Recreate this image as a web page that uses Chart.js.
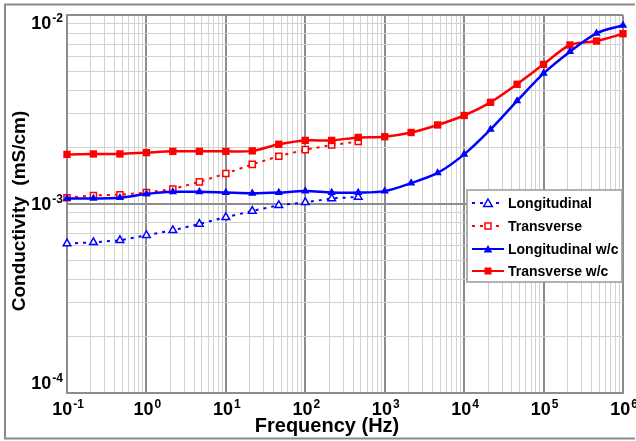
<!DOCTYPE html>
<html>
<head>
<meta charset="utf-8">
<script src="https://cdn.jsdelivr.net/npm/chart.js@4/dist/chart.umd.min.js"></script>
<style>
  html, body { margin: 0; padding: 0; background: #fff; }
  #wrap { position: relative; width: 636px; height: 441px; }
</style>
</head>
<body>
<div id="wrap"><canvas id="chart"></canvas></div>
<script>
// frequency points (Hz), three per decade
const freqHz = [0.1, 0.215, 0.464, 1, 2.15, 4.64, 10, 21.5, 46.4, 100, 215, 464,
  1000, 2150, 4640, 10000, 21500, 46400, 100000, 215000, 464000, 1000000];

// conductivity (mS/cm)
const longitudinal = [6.17e-4, 6.27e-4, 6.43e-4, 6.83e-4, 7.26e-4, 7.84e-4, 8.51e-4, 9.19e-4,
  9.85e-4, 1.02e-3, 1.07e-3, 1.09e-3];
const transverse = [1.08e-3, 1.11e-3, 1.12e-3, 1.15e-3, 1.20e-3, 1.31e-3, 1.45e-3, 1.62e-3,
  1.79e-3, 1.94e-3, 2.05e-3, 2.14e-3];
const longitudinalWc = [1.07e-3, 1.07e-3, 1.08e-3, 1.13e-3, 1.16e-3, 1.16e-3, 1.15e-3, 1.14e-3,
  1.15e-3, 1.17e-3, 1.15e-3, 1.15e-3, 1.17e-3, 1.29e-3, 1.46e-3, 1.83e-3, 2.48e-3, 3.51e-3,
  4.91e-3, 6.40e-3, 8.00e-3, 8.82e-3];
const transverseWc = [1.83e-3, 1.84e-3, 1.84e-3, 1.87e-3, 1.90e-3, 1.90e-3, 1.90e-3, 1.91e-3,
  2.07e-3, 2.17e-3, 2.17e-3, 2.25e-3, 2.27e-3, 2.39e-3, 2.62e-3, 2.94e-3, 3.45e-3, 4.30e-3,
  5.48e-3, 6.94e-3, 7.28e-3, 7.96e-3];

// axis tick exponents (labels are 10^n)
const xDecades = [-1, 0, 1, 2, 3, 4, 5, 6];
const yDecades = [-4, -3, -2];

const RED = "#ff0000";
const BLUE = "#0000ff";
const FONT = "'Liberation Sans', Arial, sans-serif";

function pts(values) {
  return values.map((v, i) => ({ x: freqHz[i], y: v }));
}

// 1..9 x 10^n grid for each decade
function logTicks(decades) {
  const ticks = [];
  decades.forEach((e, i) => {
    if (i === decades.length - 1) {
      ticks.push({ value: Math.pow(10, e), major: true });
      return;
    }
    for (let m = 1; m <= 9; m++) {
      ticks.push({ value: Number((m * Math.pow(10, e)).toPrecision(6)), major: m === 1 });
    }
  });
  return ticks;
}

const gridColor = (c) => (c.tick && c.tick.major ? "#8c8c8c" : "#d2d2d2");
const gridWidth = (c) => (c.tick && c.tick.major ? 2 : 1);

function drawPow(ctx, exp, x, y, align) {
  const base = "10";
  const sup = String(exp);
  ctx.font = "bold 18px " + FONT;
  const bw = ctx.measureText(base).width;
  ctx.font = "bold 12px " + FONT;
  const sw = ctx.measureText(sup).width;
  const total = bw + sw + 1;
  let left = align === "right" ? x - total : x - total / 2;
  ctx.textAlign = "left";
  ctx.textBaseline = "alphabetic";
  ctx.font = "bold 18px " + FONT;
  ctx.fillText(base, left, y);
  ctx.font = "bold 12px " + FONT;
  ctx.fillText(sup, left + bw + 1, y - 7);
}

function triangle(ctx, x, y, r, filled, color) {
  ctx.beginPath();
  ctx.moveTo(x, y - r);
  ctx.lineTo(x + r * 0.866, y + r * 0.5);
  ctx.lineTo(x - r * 0.866, y + r * 0.5);
  ctx.closePath();
  if (filled) { ctx.fillStyle = color; ctx.fill(); }
  else { ctx.fillStyle = "#fff"; ctx.fill(); ctx.strokeStyle = color; ctx.lineWidth = 1.5; ctx.stroke(); }
}

function square(ctx, x, y, s, filled, color) {
  if (filled) { ctx.fillStyle = color; ctx.fillRect(x - s / 2, y - s / 2, s, s); }
  else {
    ctx.fillStyle = "#fff"; ctx.fillRect(x - s / 2, y - s / 2, s, s);
    ctx.strokeStyle = color; ctx.lineWidth = 1.5; ctx.strokeRect(x - s / 2, y - s / 2, s, s);
  }
}

const decorPlugin = {
  id: "decor",
  afterDraw(chart) {
    const ctx = chart.ctx;
    const xs = chart.scales.x;
    const ys = chart.scales.y;
    ctx.save();
    ctx.fillStyle = "#000";

    // tick labels
    xDecades.forEach((e) => {
      drawPow(ctx, e, xs.getPixelForValue(Math.pow(10, e)) + 1, 415, "center");
    });
    yDecades.forEach((e, i) => {
      let y = ys.getPixelForValue(Math.pow(10, e)) + 6;
      if (i === 0) y -= 10;
      if (i === yDecades.length - 1) y += 8;
      ctx.fillStyle = "#000";
      drawPow(ctx, e, 63, y, "right");
    });

    // axis titles
    ctx.fillStyle = "#000";
    ctx.font = "bold 20px " + FONT;
    ctx.textAlign = "center";
    ctx.textBaseline = "middle";
    ctx.fillText("Frequency (Hz)", 327, 426);
    ctx.save();
    ctx.translate(20, 211);
    ctx.rotate(-Math.PI / 2);
    ctx.font = "bold 19px " + FONT;
    ctx.fillText("Conductivity  (mS/cm)", 0, 0);
    ctx.restore();

    // legend box
    const lx = 467, ly = 190, lw = 155, lh = 92;
    ctx.fillStyle = "#fff";
    ctx.fillRect(lx, ly, lw, lh);
    ctx.strokeStyle = "#999";
    ctx.lineWidth = 1.5;
    ctx.strokeRect(lx, ly, lw, lh);
    const rows = [
      { label: "Longitudinal", color: BLUE, dash: [3, 5], shape: "tri", filled: false, y: 203 },
      { label: "Transverse", color: RED, dash: [3, 5], shape: "sq", filled: false, y: 226 },
      { label: "Longitudinal w/c", color: BLUE, dash: [], shape: "tri", filled: true, y: 249 },
      { label: "Transverse w/c", color: RED, dash: [], shape: "sq", filled: true, y: 271 }
    ];
    rows.forEach((r) => {
      ctx.save();
      ctx.strokeStyle = r.color;
      ctx.lineWidth = 2;
      ctx.setLineDash(r.dash);
      ctx.beginPath();
      ctx.moveTo(472, r.y);
      ctx.lineTo(504, r.y);
      ctx.stroke();
      ctx.restore();
      if (r.shape === "tri") triangle(ctx, 488, r.y + 1, 5, r.filled, r.color);
      else square(ctx, 488, r.y, r.filled ? 7 : 6, r.filled, r.color);
      ctx.fillStyle = "#000";
      ctx.font = "bold 14px " + FONT;
      ctx.textAlign = "left";
      ctx.textBaseline = "middle";
      ctx.fillText(r.label, 508, r.y + 1);
    });

    // outer frame
    ctx.strokeStyle = "#8a8a8a";
    ctx.lineWidth = 2;
    ctx.setLineDash([]);
    ctx.beginPath();
    ctx.moveTo(635, 4.5);
    ctx.lineTo(5, 4.5);
    ctx.lineTo(5, 438.5);
    ctx.lineTo(635, 438.5);
    ctx.stroke();
    ctx.restore();
  }
};

new Chart(document.getElementById("chart"), {
  type: "line",
  data: {
    datasets: [
      {
        label: "Transverse w/c",
        data: pts(transverseWc),
        borderColor: RED,
        backgroundColor: RED,
        borderWidth: 2.5,
        tension: 0.3,
        pointStyle: "rect",
        pointRadius: 5.2,
        pointBackgroundColor: RED,
        pointBorderColor: RED,
        pointBorderWidth: 0,
        clip: false,
        order: 2
      },
      {
        label: "Longitudinal w/c",
        data: pts(longitudinalWc),
        borderColor: BLUE,
        backgroundColor: BLUE,
        borderWidth: 2.5,
        tension: 0.3,
        pointStyle: "triangle",
        pointRadius: 4.8,
        pointBackgroundColor: BLUE,
        pointBorderColor: BLUE,
        pointBorderWidth: 0,
        clip: false,
        order: 1
      },
      {
        label: "Transverse",
        data: pts(transverse),
        borderColor: RED,
        borderWidth: 2,
        borderDash: [3, 5],
        tension: 0,
        pointStyle: "rect",
        pointRadius: 4.3,
        pointBackgroundColor: "#fff",
        pointBorderColor: RED,
        pointBorderWidth: 1.5,
        clip: false,
        order: 4
      },
      {
        label: "Longitudinal",
        data: pts(longitudinal),
        borderColor: BLUE,
        borderWidth: 2,
        borderDash: [3, 5],
        tension: 0,
        pointStyle: "triangle",
        pointRadius: 4.4,
        pointBackgroundColor: "#fff",
        pointBorderColor: BLUE,
        pointBorderWidth: 1.5,
        clip: false,
        order: 3
      }
    ]
  },
  options: {
    responsive: true,
    maintainAspectRatio: false,
    animation: false,
    layout: { padding: { top: 15, right: 13, left: 0, bottom: 0 } },
    plugins: { legend: { display: false }, tooltip: { enabled: false } },
    scales: {
      x: {
        type: "logarithmic",
        min: 0.1,
        max: 1000000,
        afterBuildTicks: (s) => { s.ticks = logTicks(xDecades); },
        afterFit: (s) => { s.height = 48; },
        ticks: { display: false, autoSkip: false },
        grid: { color: gridColor, lineWidth: gridWidth, drawTicks: false },
        border: { color: "#8c8c8c", width: 2 }
      },
      y: {
        type: "logarithmic",
        min: 0.0001,
        max: 0.01,
        afterBuildTicks: (s) => { s.ticks = logTicks(yDecades); },
        afterFit: (s) => { s.width = 67; },
        ticks: { display: false, autoSkip: false },
        grid: { color: gridColor, lineWidth: gridWidth, drawTicks: false },
        border: { color: "#8c8c8c", width: 2 }
      }
    }
  },
  plugins: [decorPlugin]
});
</script>
</body>
</html>
